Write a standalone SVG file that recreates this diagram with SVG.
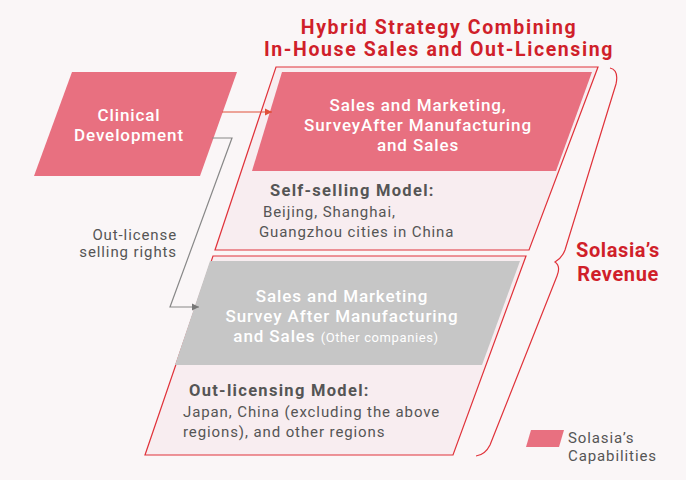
<svg xmlns="http://www.w3.org/2000/svg" width="686" height="480" viewBox="0 0 686 480">
<style>
text{font-family:Roboto,"Liberation Sans",sans-serif}
.w{fill:#fff;font-size:17px;font-weight:500;text-anchor:middle;letter-spacing:0.9px}
.d{fill:#555;font-size:15px;letter-spacing:0.9px}
.b{fill:#555;font-size:16.5px;font-weight:700;letter-spacing:1.3px}
.r{fill:#d01f2a;font-weight:700}
.pink{fill:#e87080}
.frame{fill:#f8edf0;stroke:#e0323a;stroke-width:1.2}
</style>
<rect width="686" height="480" fill="#faf6f7"/>
<g id="title"><text class="r" x="439" y="34" font-size="19.5" text-anchor="middle" letter-spacing="1.6">Hybrid Strategy Combining</text><text class="r" x="439" y="56" font-size="19.5" text-anchor="middle" letter-spacing="1.6">In-House Sales and Out-Licensing</text></g>
<g id="clinical"><polygon class="pink" points="72,72 237,72 200,176 34,176"/><text class="w" x="129" y="121">Clinical</text><text class="w" x="129" y="141">Development</text></g>
<g id="self"><polygon class="frame" points="276,67 598,67 529,250 215,250"/><polygon class="pink" points="282,72 592,72 556,171 252,171"/>
<text class="w" x="418" y="111">Sales and Marketing,</text><text class="w" x="418" y="131">SurveyAfter Manufacturing</text><text class="w" x="418" y="151">and Sales</text>
<text class="b" x="270" y="196">Self-selling Model:</text><text class="d" x="263" y="217">Beijing, Shanghai,</text><text class="d" x="259" y="237">Guangzhou cities in China</text></g>
<g id="out"><polygon class="frame" points="213,256 526,256 453,455 145,455"/><polygon fill="#c6c6c6" points="210,261 520,261 482,365 175,365"/>
<text class="w" x="342" y="302">Sales and Marketing</text><text class="w" x="342" y="322">Survey After Manufacturing</text><text class="w" x="336" y="342">and Sales <tspan font-size="13" font-weight="400" letter-spacing="0.6">(Other companies)</tspan></text>
<text class="b" x="189" y="396">Out-licensing Model:</text><text class="d" x="183" y="417">Japan, China (excluding the above</text><text class="d" x="183" y="437">regions), and other regions</text></g>
<g id="connectors">
<defs><marker id="ag" markerWidth="8" markerHeight="8" refX="7" refY="4" orient="auto" markerUnits="userSpaceOnUse"><path d="M0,0.5 L7,4 L0,7.5z" fill="#777"/></marker>
<marker id="ao" markerWidth="8" markerHeight="8" refX="7" refY="4" orient="auto" markerUnits="userSpaceOnUse"><path d="M0,0.5 L7,4 L0,7.5z" fill="#e0503a"/></marker></defs>
<path d="M222,112 H272" stroke="#e0503a" stroke-width="1.2" fill="none" marker-end="url(#ao)"/>
<path d="M212,138 H232 L170,307 H199" stroke="#888" stroke-width="1.2" fill="none" marker-end="url(#ag)"/>
<text class="d" x="177" y="240" text-anchor="end">Out-license</text><text class="d" x="177" y="257" text-anchor="end">selling rights</text>
</g>
<g id="revenue"><path d="M610,68 Q619,70 616,84 L565,250 Q562,258 555,262 Q561,266 557,276 L490,445 Q485,455 476,456" stroke="#e0323a" stroke-width="1.2" fill="none"/>
<text class="r" x="618" y="257" font-size="20" text-anchor="middle" letter-spacing="0.6">Solasia’s</text><text class="r" x="618" y="281" font-size="20" text-anchor="middle" letter-spacing="0.6">Revenue</text></g>
<g id="legend"><polygon class="pink" points="531,430 564,430 559,447 526,447"/><text class="d" x="568" y="443">Solasia’s</text><text class="d" x="568" y="461">Capabilities</text></g>
</svg>
